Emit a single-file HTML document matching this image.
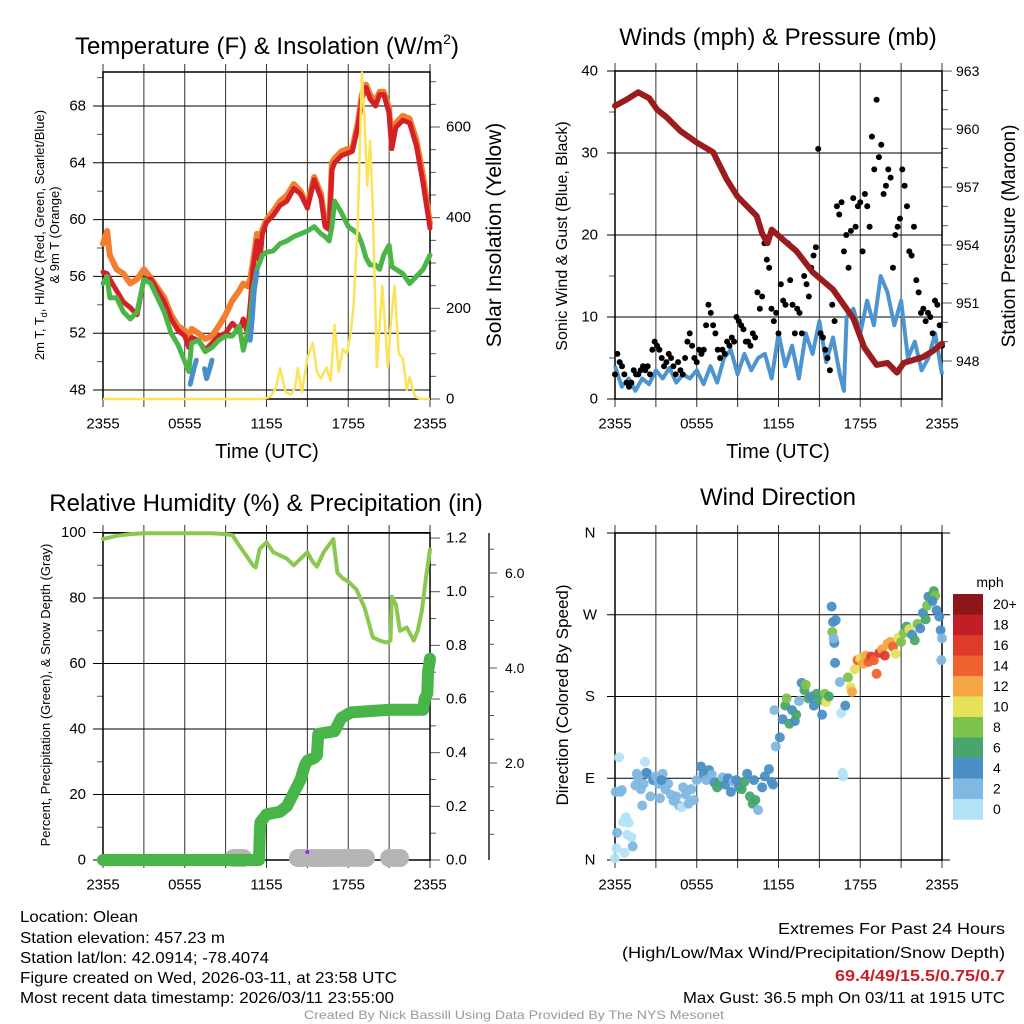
<!DOCTYPE html>
<html><head><meta charset="utf-8"><title>Olean Mesonet Meteogram</title>
<style>
html,body{margin:0;padding:0;background:#fff;}
svg{display:block;font-family:"Liberation Sans",sans-serif;}
.nar{font-family:"Liberation Sans Narrow","Liberation Sans",sans-serif;}
</style></head>
<body>
<svg id="chart" width="1024" height="1024" viewBox="0 0 1024 1024" xmlns="http://www.w3.org/2000/svg">
<rect x="0" y="0" width="1024" height="1024" fill="#fff"/>
<g font-size="24" text-anchor="middle" fill="#000">
<text x="267" y="54">Temperature (F) &amp; Insolation (W/m<tspan font-size="14" dy="-10">2</tspan><tspan dy="10">)</tspan></text>
<text x="778" y="45">Winds (mph) &amp; Pressure (mb)</text>
<text x="266" y="511">Relative Humidity (%) &amp; Precipitation (in)</text>
<text x="778" y="505">Wind Direction</text>
</g>
<g fill="#000">
<text x="267" y="458" font-size="20" text-anchor="middle">Time (UTC)</text>
<text x="778" y="458" font-size="20" text-anchor="middle">Time (UTC)</text>
<text transform="translate(44,235) rotate(-90)" font-size="13" text-anchor="middle">2m T, T<tspan font-size="9" dy="3">d</tspan><tspan dy="-3">, HI/WC (Red, Green, Scarlet/Blue)</tspan></text>
<text transform="translate(59,235) rotate(-90)" font-size="13" text-anchor="middle">&amp; 9m T (Orange)</text>
<text transform="translate(501,235) rotate(-90)" font-size="21" text-anchor="middle">Solar Insolation (Yellow)</text>
<text transform="translate(567,236) rotate(-90)" font-size="16" text-anchor="middle">Sonic Wind &amp; Gust (Blue, Black)</text>
<text transform="translate(1015,236) rotate(-90)" font-size="19" text-anchor="middle">Station Pressure (Maroon)</text>
<text transform="translate(50,695) rotate(-90)" font-size="13" text-anchor="middle">Percent, Precipitation (Green), &amp; Snow Depth (Gray)</text>
<text transform="translate(568,695) rotate(-90)" font-size="17" text-anchor="middle">Direction (Colored By Speed)</text>
</g>
<g class="nar" font-size="16" fill="#000">
<text x="20" y="922" textLength="118" lengthAdjust="spacingAndGlyphs">Location: Olean</text>
<text x="20" y="943" textLength="205" lengthAdjust="spacingAndGlyphs">Station elevation: 457.23 m</text>
<text x="20" y="963" textLength="249" lengthAdjust="spacingAndGlyphs">Station lat/lon: 42.0914; -78.4074</text>
<text x="20" y="983" textLength="377" lengthAdjust="spacingAndGlyphs">Figure created on Wed, 2026-03-11, at 23:58 UTC</text>
<text x="20" y="1003" textLength="374" lengthAdjust="spacingAndGlyphs">Most recent data timestamp: 2026/03/11 23:55:00</text>
</g>
<g class="nar" font-size="16" fill="#000" text-anchor="end">
<text x="1005" y="934" textLength="227" lengthAdjust="spacingAndGlyphs">Extremes For Past 24 Hours</text>
<text x="1005" y="958" textLength="383" lengthAdjust="spacingAndGlyphs">(High/Low/Max Wind/Precipitation/Snow Depth)</text>
<text x="1005" y="981" fill="#c8202a" font-weight="bold" textLength="170" lengthAdjust="spacingAndGlyphs">69.4/49/15.5/0.75/0.7</text>
<text x="1005" y="1003" textLength="322" lengthAdjust="spacingAndGlyphs">Max Gust: 36.5 mph On 03/11 at 1915 UTC</text>
</g>
<text class="nar" x="304" y="1019" font-size="12" fill="#999" textLength="420" lengthAdjust="spacingAndGlyphs">Created By Nick Bassill Using Data Provided By The NYS Mesonet</text>
</svg>
<script>
// ---------- data ----------
const xTickLabels = ["2355","0555","1155","1755","2355"];
const xTickHours = [0,6,12,18,24];
const tempTicks = [48,52,56,60,64,68];
const solarTicks = [0,200,400,600];
const windTicks = [0,10,20,30,40];
const presTicks = [948,951,954,957,960,963];
const rhTicks = [0,20,40,60,80,100];
const precipTicks = [0.0,0.2,0.4,0.6,0.8,1.0,1.2];
const snowTicks = [2.0,4.0,6.0];
const dirTicks = [0,90,180,270,360];
const dirLabels = ["N","E","S","W","N"];
const speedBins = ["20+","18","16","14","12","10","8","6","4","2","0"];

const tempHours = [0,0.3,0.5,1,1.5,2,2.5,3,3.5,4,4.5,5,5.5,6,6.3,6.5,7,7.5,8,8.5,9,9.5,10,10.3,10.6,10.8,11,11.3,11.5,11.7,12,12.5,13,13.5,14,14.5,15,15.5,16,16.3,16.6,16.8,17,17.5,18,18.3,18.7,19,19.3,19.6,20,20.3,20.6,21,21.2,21.5,22,22.5,23,23.5,24];
const airTemp = [56.3,56.2,55.8,55,54.2,53.8,53.3,55.8,55.8,55,54.2,53,52.2,51.8,51,51.7,51.5,50.8,51.3,51.8,52,52.7,52.2,53,52,54,56.5,58.5,57,59,59.8,60.3,61,61.3,62.2,61.8,60.8,62.8,61.5,59.5,59.3,63.5,64,64.5,64.7,64.8,66.5,68.5,69.3,68.5,68,68.8,68.8,67.5,65,66.5,67,66.8,65.2,62.5,59.4];
const temp9m = [58.3,59.2,57.5,56.5,56.2,55.5,55.8,56.5,55.9,55.2,54.5,53.3,52.5,52.2,51.6,52.3,52.0,51.6,51.8,52.5,53.3,54.3,55,55.5,55.3,55.8,57,59,58.3,59.3,60,60.6,61.3,61.7,62.5,62,61,63,61.8,59.7,59.5,64,64.3,64.8,65,65,66.8,68.8,69.5,68.8,68.3,69,69,67.8,65.3,66.8,67.3,67.1,65.6,63,59.7];
const dewPoint = [55.5,56,54.5,54.5,53.5,53,53.5,55.8,55.5,54.5,53.5,52,51.2,50,49.3,51.3,51.5,50.7,51,51.5,51.8,51.8,52.5,50.8,52,53,55,56.5,57,57.5,57.7,57.8,58.3,58.5,58.8,59,59.2,59.5,59,58.8,58.5,59.5,61.3,60.5,59.5,59.3,59,58.3,57.3,56.8,56.8,56.5,57.5,58.2,56.7,56.5,56.2,55.5,56,56.5,57.5];
const chillHoursA = [6.4,6.55,6.7,6.85];
const chillA = [48.4,49,49.6,50.1];
const chillHoursB = [7.45,7.6,7.8,8.0];
const chillB = [49.5,48.8,49.4,50.1];
const chillHoursC = [10.8,10.95,11.1,11.3];
const chillC = [51.5,53,55,56.3];
const solarHours = [0,11.8,12.3,12.7,13.0,13.4,13.8,14.1,14.3,14.6,15.0,15.4,15.7,16.0,16.4,16.7,17.0,17.3,17.6,17.9,18.2,18.4,18.7,19.0,19.2,19.4,19.6,19.8,20.1,20.5,20.9,21.1,21.4,21.7,22.0,22.3,22.5,22.9,23.3,24];
const solar = [0,0,5,25,68,15,10,25,68,15,90,124,60,45,70,40,163,60,110,100,150,212,390,720,610,470,570,420,70,250,70,160,250,100,90,20,48,5,0,0];

const presHours = [0,0.8,1.7,2.5,3.1,3.8,4.8,6,7.2,8.2,9,10.4,10.8,11.2,11.5,12.3,13.3,14.5,16,17.5,18.3,19.2,20,20.7,21.2,22.6,23.3,24];
const pressure = [961.2,961.5,961.9,961.6,961.0,960.6,959.9,959.3,958.8,957.4,956.5,955.5,954.6,954.1,954.8,954.3,953.7,952.6,951.7,950.2,948.7,947.8,947.9,947.4,947.9,948.2,948.5,948.9];
const windHours = [0,0.5,1,1.5,2,2.5,3,3.5,4,4.5,5,5.5,6,6.5,7,7.5,8,8.5,9,9.5,10,10.5,11,11.5,12,12.5,13,13.5,14,14.5,15,15.5,16,16.5,16.8,17,17.5,18,18.5,19,19.5,20,20.5,21,21.5,22,22.5,23,23.5,24];
const windSpeed = [4,1.5,2.5,1,2.5,1.8,3.5,2.5,3.8,2,3,2.5,3.5,1.8,4,2,5,6,3,5.5,3.5,5,5.5,2.5,8,4,6.5,2.5,8,5.5,9.5,4.5,7.5,3,1,10,11,8,12,9,15,13,9,12,5,7,3.5,5,8,3];
const gusts = [3,5.5,4.5,4,3,2,1.5,2,3.5,3,3,3.5,4,3.5,4,3,6,7,6.5,6,5,4,4.5,5.5,5,4,3,4.5,3.5,3,5,7,8,6.5,5,4.5,6,5.5,6,9,11.5,10.5,9,8,6,5,6,5.5,7,6.5,7.5,7,10,9.5,9,8.5,7,7,6.5,8,7.5,13,11,12.5,19,17,16,11,9.5,10.5,8,14,12,11.5,19,14.5,11.5,8,11,10.5,8,15,14,12.5,16,17.5,18.5,30.5,8,7.5,6,5,3.5,11.5,9.5,23.5,22.5,24,18,20,16,20.5,24.5,21,23.5,24,18,25,23.5,21,32,28,36.5,29.5,31,25,26,28,27,16,20,21,22,28,26,23.5,18,17.5,21,14.5,13,10.5,11,9.5,10.5,10,8,12,11.5,9,6.5];

const rhHours = [0,0.5,1,2,3,4,5,6,7,8,9,9.5,10,10.5,11,11.2,11.5,12,12.5,13,13.5,14,14.5,15,15.4,15.7,16.2,16.9,17.2,17.6,18,18.6,19.2,19.8,20.3,20.8,21.1,21.2,21.5,21.8,22.3,22.8,23.1,23.4,23.7,24];
const humidity = [98,98.5,99,99.5,99.8,99.8,99.8,99.8,99.8,99.8,99.5,99.2,96,93,90,89.3,95,97,94,93,92,90,92,94,91,89.6,94,98,87.7,86,85,82.6,77,68,67,66.4,67,80.4,78,70,71,67,70,76,86,94.8];
const precipHours = [0,11.45,11.5,11.55,12,13,13.5,14,14.5,14.8,15,15.5,15.7,15.8,17,17.5,18.2,21,23.5,23.6,23.8,23.85,24];
const precip = [0,0,0.09,0.14,0.17,0.18,0.2,0.25,0.3,0.35,0.37,0.38,0.39,0.47,0.48,0.53,0.55,0.56,0.56,0.6,0.62,0.7,0.75];
const snowHours = [9.6,10.0,10.3,14.3,14.6,15,15.4,15.8,16.2,16.5,16.9,17.3,17.7,18.1,18.5,18.9,19.3,21.0,21.4,21.8];
const snowDepth = [0,0,0,0,0,0,0,0,0,0,0,0,0,0,0,0,0,0,0,0];

const dirHours = [0,0.1,0.15,0.3,0.4,0.5,0.6,0.8,0.9,1.0,1.2,1.3,0.7,0.05,1.5,1.7,1.9,2.1,2.2,2.4,2.6,2.8,3.0,3.2,3.3,3.5,3.7,3.9,4.1,4.3,4.5,4.7,4.9,5.0,5.2,5.4,5.6,5.8,6.0,2.3,3.4,2.0,1.6,6.3,6.5,6.7,6.9,7.1,7.3,7.5,7.7,7.9,8.1,8.3,8.5,8.7,8.9,9.1,9.3,9.5,9.7,9.9,10.1,10.3,10.5,10.2,10.8,11.0,11.3,11.5,11.6,11.7,11.8,12.1,12.3,12.5,12.6,12.8,13,13.2,13.3,13.5,13.7,13.9,14.0,14.2,14.4,14.6,14.8,15.0,15.2,15.4,15.5,15.7,15.9,16.0,16.2,16.1,16.15,15.95,16.05,16.5,16.6,16.7,16.75,16.9,17.1,17.3,17.4,17.6,17.8,18.0,18.2,18.4,18.6,18.8,19.0,19.2,19.4,19.6,19.8,20.0,20.2,20.4,20.6,20.8,21.0,21.2,21.4,21.6,21.8,22.0,22.2,22.4,22.6,22.8,23.0,23.2,23.4,23.5,23.6,23.8,23.9,24.0,23.95,22.9,23.3];
const direction = [2,13,30,113,75,77,42,47,28,41,25,15,8,75,82,90,78,84,108,95,70,88,92,84,68,95,78,84,72,65,70,60,58,80,72,62,78,66,88,96,88,60,95,103,95,88,99,94,85,80,86,91,83,90,75,86,88,80,78,86,95,70,62,66,55,88,80,92,100,86,83,165,125,135,155,170,178,150,165,153,160,175,195,187,193,178,180,170,183,176,160,183,174,180,279,262,264,239,217,251,244,196,162,96,92,170,201,190,185,210,220,222,216,225,218,224,220,205,228,232,225,238,240,235,227,245,240,250,257,254,248,242,260,255,272,265,290,287,296,291,275,268,253,244,220,280,285];
const dirSpeed = [1,1,2,1,2,3,0,0,0,0,0,2,0,3,2,2,2,3,0,2,2,4,3,2,2,2,2,2,2,2,2,2,0,2,2,2,2,2,2,4,4,2,2,4,4,2,4,2,4,6,6,2,4,4,4,2,4,4,6,6,4,6,6,6,2,4,4,4,4,4,4,2,2,4,4,6,8,6,4,4,6,2,4,6,8,6,4,4,6,6,4,8,10,6,4,4,4,4,4,8,2,2,0,0,0,4,8,10,12,10,14,10,12,12,14,16,14,14,16,12,16,12,12,14,10,10,8,8,6,10,4,6,8,4,4,6,4,6,6,8,4,4,4,2,2,8,4];

// ---------- helpers ----------
const NS = 'http://www.w3.org/2000/svg';
const svg = document.getElementById('chart');
function mk(tag, attrs, parent) {
  const e = document.createElementNS(NS, tag);
  for (const k in attrs) e.setAttribute(k, attrs[k]);
  (parent || svg).appendChild(e);
  return e;
}
function pts(hours, vals, fx, fy) {
  return hours.map((h, i) => fx(h).toFixed(1) + ',' + fy(vals[i]).toFixed(1)).join(' ');
}
const PW = 327 / 24;
const x1 = h => 103 + h * PW;
const x2 = h => 615 + h * PW;
const yT = v => 390 - (v - 48) * 14.2;
const yS = v => 399 - v * 0.4533;
const yW = v => 399 - v * 8.2;
const yP = v => 361 - (v - 948) * 19.33;
const yRH = v => 860 - v * 3.275;
const yPr = v => 860 - v * 268.3;
const ySn = v => 858 - v * 47.5;
const yD = v => 860 - v * 0.9083;

function line(g, a, b, c, d, col, w) {
  return mk('line', {x1: a, y1: b, x2: c, y2: d, stroke: col || '#000', 'stroke-width': w || 1}, g);
}
function txt(g, x, y, s, anchor, size, cls) {
  const t = mk('text', {x: x, y: y, 'text-anchor': anchor || 'middle', 'font-size': size || 15, 'dominant-baseline': 'central'}, g);
  if (cls) t.setAttribute('class', cls);
  t.textContent = s;
  return t;
}

function timeGrid(g, fx, top, bot, labelY, cls) {
  for (let h = 0; h <= 24; h += 3) {
    const l = line(g, fx(h), top - 8, fx(h), bot + 8, '#333', 1);
    
    
  }
  xTickHours.forEach((h, i) => {
    const t = txt(g, fx(h), labelY, xTickLabels[i], 'middle', 15, cls);
    
    
  });
}

// ================= PANEL 1 =================
const p1 = mk('g', {});


timeGrid(p1, x1, 72, 399, 424);
tempTicks.forEach(v => {
  const l = line(p1, 93, yT(v), 430, yT(v));
  
  
  const t = txt(p1, 86, yT(v), String(v), 'end');
  
  
});
for (let v = 50; v <= 70; v += 4) {
  const l = line(p1, 97, yT(v), 103, yT(v), '#555');
  
  
}
for (let v = 0; v <= 700; v += 50) {
  const major = v % 200 === 0;
  const l = line(p1, 430, yS(v), major ? 440 : 436, yS(v), '#555');
  
  
}
solarTicks.forEach(v => {
  const t = txt(p1, 446, yS(v), String(v), 'start');
  
  
});
const f1 = mk('rect', {x: 103, y: 72, width: 327, height: 327, fill: 'none', stroke: '#000', 'stroke-width': 1.5}, p1);


const sOrange = mk('polyline', {points: pts(tempHours, temp9m, x1, yT), fill: 'none', stroke: '#f37e2f', 'stroke-width': 6, 'stroke-linejoin': 'round', 'stroke-linecap': 'round'}, p1);


const sRed = mk('polyline', {points: pts(tempHours, airTemp, x1, yT), fill: 'none', stroke: '#d42027', 'stroke-width': 5, 'stroke-linejoin': 'round', 'stroke-linecap': 'round'}, p1);


const sGreen = mk('polyline', {points: pts(tempHours, dewPoint, x1, yT), fill: 'none', stroke: '#4bb548', 'stroke-width': 5, 'stroke-linejoin': 'round', 'stroke-linecap': 'round'}, p1);


[[chillHoursA, chillA], [chillHoursB, chillB], [chillHoursC, chillC]].forEach(s => {
  const b = mk('polyline', {points: pts(s[0], s[1], x1, yT), fill: 'none', stroke: '#4a90c8', 'stroke-width': 5, 'stroke-linejoin': 'round', 'stroke-linecap': 'round'}, p1);
  
  
});
const sSol = mk('polyline', {points: pts(solarHours, solar, x1, yS), fill: 'none', stroke: '#fbe35a', 'stroke-width': 2.5, 'stroke-linejoin': 'round'}, p1);



// ================= PANEL 2 =================
const p2 = mk('g', {});


timeGrid(p2, x2, 71, 399, 424);
windTicks.forEach(v => {
  const l = line(p2, 607, yW(v), 942, yW(v));
  
  
  const t = txt(p2, 598, yW(v), String(v), 'end');
  
  
});
for (let v = 5; v < 40; v += 10) {
  const l = line(p2, 609, yW(v), 615, yW(v), '#555');
  
  
}
for (let v = 948; v <= 963; v += 1) {
  const major = (v - 948) % 3 === 0;
  const l = line(p2, 942, yP(v), major ? 952 : 948, yP(v), '#555');
  
  
}
presTicks.forEach(v => {
  const t = txt(p2, 956, yP(v), String(v), 'start', 14);
  
  
});
const f2 = mk('rect', {x: 615, y: 71, width: 327, height: 328, fill: 'none', stroke: '#000', 'stroke-width': 1.5}, p2);


const sWind = mk('polyline', {points: pts(windHours, windSpeed, x2, yW), fill: 'none', stroke: '#4e95d0', 'stroke-width': 4, 'stroke-linejoin': 'round'}, p2);


const gg = mk('g', {fill: '#000'}, p2);


gusts.forEach((v, i) => {
  const h = i * 24 / (gusts.length - 1);
  const c = mk('circle', {cx: x2(h), cy: yW(v), r: 3}, gg);
  
  
});
const sPres = mk('polyline', {points: pts(presHours, pressure, x2, yP), fill: 'none', stroke: '#9b1c1c', 'stroke-width': 6, 'stroke-linejoin': 'round', 'stroke-linecap': 'round'}, p2);



// ================= PANEL 3 =================
const p3 = mk('g', {});


timeGrid(p3, x1, 533, 860, 885, 'nar');
rhTicks.forEach(v => {
  const l = line(p3, 93, yRH(v), 430, yRH(v));
  
  
  const t = txt(p3, 86, yRH(v), String(v), 'end');
  
  
});
for (let v = 10; v < 100; v += 20) {
  const l = line(p3, 97, yRH(v), 103, yRH(v), '#555');
  
  
}
for (let k = 0; k <= 12; k++) {
  const v = k / 10;
  const major = k % 2 === 0;
  const l = line(p3, 430, yPr(v), major ? 440 : 436, yPr(v), '#555');
  
  
}
precipTicks.forEach(v => {
  const t = txt(p3, 446, yPr(v), v.toFixed(1), 'start');
  
  
});
const snowAxis = line(p3, 489, 533, 489, 860, '#222', 1.5);


for (let k = 1; k <= 14; k++) {
  const v = k / 2;
  if (ySn(v) < 533 || ySn(v) > 860) continue;
  const major = k % 4 === 0;
  const l = line(p3, 489, ySn(v), major ? 497 : 494, ySn(v), '#555');
  
  
}
snowTicks.forEach(v => {
  const t = txt(p3, 505, ySn(v), v.toFixed(1), 'start', 14);
  
  
});
const f3 = mk('rect', {x: 103, y: 533, width: 327, height: 327, fill: 'none', stroke: '#000', 'stroke-width': 1.5}, p3);


const sg = mk('g', {fill: '#b5b5b5'}, p3);


snowHours.forEach((h, i) => {
  const c = mk('circle', {cx: x1(h), cy: ySn(snowDepth[i]), r: 9}, sg);
  
  
});
const pur = mk('circle', {cx: x1(15), cy: 852, r: 2, fill: '#a020f0'}, p3);


const sPr = mk('polyline', {points: pts(precipHours, precip, x1, yPr), fill: 'none', stroke: '#48b549', 'stroke-width': 12, 'stroke-linejoin': 'round', 'stroke-linecap': 'round'}, p3);


const sRH = mk('polyline', {points: pts(rhHours, humidity, x1, yRH), fill: 'none', stroke: '#8cc84f', 'stroke-width': 4, 'stroke-linejoin': 'round', 'stroke-linecap': 'round'}, p3);



// ================= PANEL 4 =================
const p4 = mk('g', {});


timeGrid(p4, x2, 533, 860, 885, 'nar');
dirTicks.forEach((v, i) => {
  const l = line(p4, 607, yD(v), 950, yD(v));
  
  
  const t = txt(p4, 590, yD(v), dirLabels[i], 'middle');
  
  
});
const f4 = mk('rect', {x: 615, y: 533, width: 327, height: 327, fill: 'none', stroke: '#000', 'stroke-width': 1.5}, p4);


const binColors = ['#8e1518','#c11f26','#de3b2d','#f06230','#f6a646','#e6e15a','#7dc24b','#48a66c','#4a8fc5','#7fb8e2','#b4e3f8'];
function speedColor(s) {
  let idx = 10 - Math.min(10, Math.floor(s / 2));
  return binColors[idx];
}
const dg = mk('g', {}, p4);


dirHours.forEach((h, i) => {
  const c = mk('circle', {cx: x2(h), cy: yD(direction[i]), r: 5, fill: speedColor(dirSpeed[i]), 'fill-opacity': 0.95}, dg);
  
  
});
const cb = mk('g', {}, p4);


const unit = txt(cb, 990, 582, 'mph', 'middle', 14);


speedBins.forEach((lab, i) => {
  const r = mk('rect', {x: 953, y: 594 + i * 20.5, width: 30, height: 20.8, fill: binColors[i]}, cb);
  
  
  const t = txt(cb, 993, 604 + i * 20.5, lab, 'start', 14);
  
  
});
</script>
</body></html>
